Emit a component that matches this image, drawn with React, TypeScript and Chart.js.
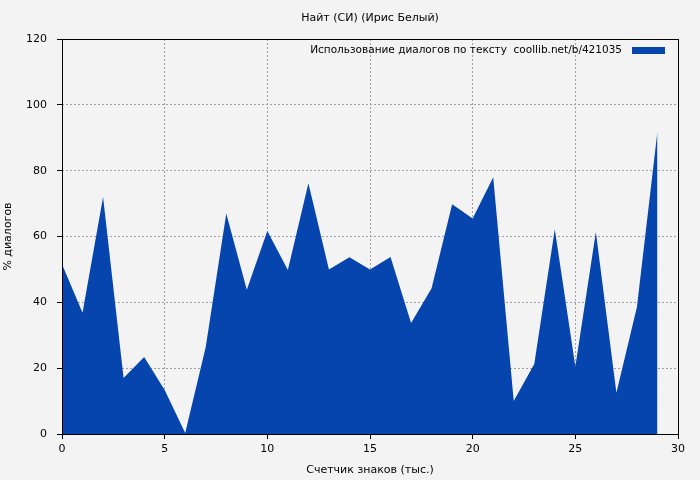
import React, { useEffect, useRef } from "react";
import { Chart, registerables } from "chart.js";

Chart.register(...registerables);

const TITLE = "Найт (СИ) (Ирис Белый)";
const X_TITLE = "Счетчик знаков (тыс.)";
const Y_TITLE = "% диалогов";
const SERIES_LABEL = "Использование диалогов по тексту  coollib.net/b/421035";

const xValues = [0, 1, 2, 3, 4, 5, 6, 7, 8, 9, 10, 11, 12, 13, 14, 15, 16, 17, 18, 19, 20, 21, 22, 23, 24, 25, 26, 27, 28, 29];
const yValues = [51.6, 36.8, 72, 17, 23.4, 13.4, 0.3, 26.4, 67, 43.8, 61.7, 49.8, 76.2, 50, 53.7, 50, 53.8, 33.7, 44.3, 69.8, 65.5, 78, 10, 21.3, 62.2, 20.5, 61.4, 12.5, 38.6, 92];

const X_MIN = 0;
const X_MAX = 30;
const X_STEP = 5;
const Y_MIN = 0;
const Y_MAX = 120;
const Y_STEP = 20;

const BG = "#f3f3f3";
const FILL = "#0645ad";
const FONT = "'DejaVu Sans', sans-serif";

const bgPlugin = {
  id: "bg",
  beforeDraw(chart: any) {
    const { ctx, width, height } = chart;
    ctx.save();
    ctx.fillStyle = BG;
    ctx.fillRect(0, 0, width, height);
    ctx.restore();
  },
};

const frameLegendPlugin = {
  id: "frameLegend",
  afterDatasetsDraw(chart: any) {
    const { ctx, chartArea } = chart;
    const { left, top, right, bottom } = chartArea;
    ctx.save();
    ctx.strokeStyle = "#000";
    ctx.lineWidth = 1;
    ctx.strokeRect(Math.round(left) + 0.5, Math.round(top) + 0.5, Math.round(right - left), Math.round(bottom - top));
    // legend (gnuplot style: text then sample box, top right inside plot)
    const ds = chart.data.datasets[0];
    const boxRight = right - 13;
    const boxW = 33;
    const boxH = 7;
    const cy = top + 11.5;
    ctx.fillStyle = ds.backgroundColor;
    ctx.fillRect(boxRight - boxW, cy - boxH / 2, boxW, boxH);
    ctx.fillStyle = "#000";
    ctx.font = "10.5px " + FONT;
    ctx.textAlign = "right";
    ctx.textBaseline = "middle";
    ctx.fillText(ds.label, boxRight - boxW - 10, cy);
    ctx.restore();
  },
};

export default function App() {
  const ref = useRef<HTMLCanvasElement | null>(null);

  useEffect(() => {
    document.body.style.margin = "0";
    document.body.style.background = BG;
    const canvas = ref.current;
    if (!canvas) return;
    const chart = new Chart(canvas, {
      type: "line",
      data: {
        datasets: [
          {
            label: SERIES_LABEL,
            data: xValues.map((x, i) => ({ x, y: yValues[i] })),
            backgroundColor: FILL,
            borderColor: FILL,
            borderWidth: 0,
            pointRadius: 0,
            fill: "origin",
            tension: 0,
          },
        ],
      },
      options: {
        animation: false,
        responsive: false,
        maintainAspectRatio: false,
        devicePixelRatio: 1,
        layout: { padding: { left: 0, right: 22, top: 0, bottom: 0 } },
        plugins: {
          legend: { display: false },
          tooltip: { enabled: false },
          title: {
            display: true,
            text: TITLE,
            fullSize: false,
            color: "#000",
            font: { family: FONT, size: 11, weight: "normal", lineHeight: 13 / 11 },
            padding: { top: 12, bottom: 14 },
          },
        },
        scales: {
          x: {
            type: "linear",
            min: X_MIN,
            max: X_MAX,
            afterFit(scale: any) {
              scale.height = 46;
            },
            ticks: {
              stepSize: X_STEP,
              color: "#000",
              padding: 4,
              maxRotation: 0,
              font: { family: FONT, size: 11 },
            },
            grid: {
              color: "#a0a0a0",
              lineWidth: 1,
              drawTicks: true,
              tickLength: 5,
              tickColor: "#000",
              tickBorderDash: [],
            },
            border: { display: false, dash: [2, 2] },
            title: {
              display: true,
              text: X_TITLE,
              color: "#000",
              font: { family: FONT, size: 11, lineHeight: 13 / 11 },
              padding: { top: 0, bottom: 3 },
            },
          },
          y: {
            type: "linear",
            min: Y_MIN,
            max: Y_MAX,
            afterFit(scale: any) {
              scale.width = 62;
            },
            ticks: {
              stepSize: Y_STEP,
              color: "#000",
              padding: 10,
              font: { family: FONT, size: 11 },
            },
            grid: {
              color: "#a0a0a0",
              lineWidth: 1,
              drawTicks: true,
              tickLength: 5,
              tickColor: "#000",
              tickBorderDash: [],
            },
            border: { display: false, dash: [2, 2] },
            title: {
              display: true,
              text: Y_TITLE,
              color: "#000",
              font: { family: FONT, size: 11, lineHeight: 13 / 11 },
              padding: { top: 2, bottom: 0 },
            },
          },
        },
      },
      plugins: [bgPlugin, frameLegendPlugin],
    } as any);
    return () => chart.destroy();
  }, []);

  return (
    <div style={{ position: "absolute", left: 0, top: 0, width: 700, height: 480, background: BG }}>
      <canvas ref={ref} width={700} height={480} style={{ display: "block", width: 700, height: 480 }} />
    </div>
  );
}
